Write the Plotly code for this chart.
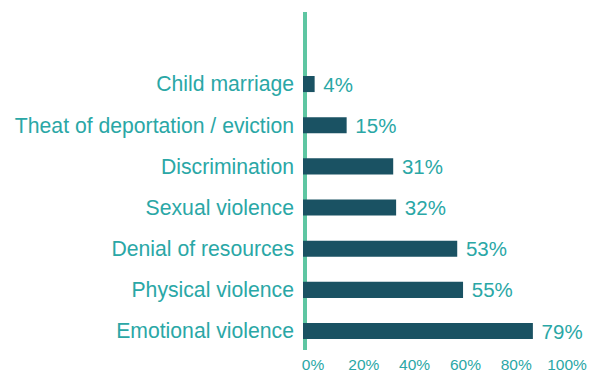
import plotly.graph_objects as go

# Share of respondents reporting each form of abuse
categories = [
    "Child marriage",
    "Theat of deportation / eviction",
    "Discrimination",
    "Sexual violence",
    "Denial of resources",
    "Physical violence",
    "Emotional violence",
]
values = [4, 15, 31, 32, 53, 55, 79]
tick_values = [0, 20, 40, 60, 80, 100]
tick_labels = ["0%", "20%", "40%", "60%", "80%", "100%"]

BAR = "#1a5263"
TEXT = "#2aa7a6"
LINE = "#5ec6a2"
FONT = "Liberation Sans, Arial, sans-serif"

W, H = 596, 370
ML, MR, MT, MB = 303, 0, 12, 20
plot_w = W - ML - MR
px_per_unit = 2.91           # bar scale
tick_px_per_unit = 2.54      # tick label scale
tick_offset = 10             # px from plot left to the 0% tick

fig = go.Figure()
fig.add_trace(go.Bar(
    x=values,
    y=list(range(len(categories))),
    orientation="h",
    marker=dict(color=BAR, line=dict(width=0)),
    width=0.39,
    text=[f" {v}%" for v in values],
    textposition="outside",
    constraintext="none",
    cliponaxis=False,
    textfont=dict(family=FONT, size=20.5, color=TEXT),
    hoverinfo="skip",
))
# empty trace so the percentage scale axis is rendered
fig.add_trace(go.Scatter(
    x=tick_values, y=[0] * len(tick_values), xaxis="x2", yaxis="y",
    mode="markers", marker=dict(opacity=0), hoverinfo="skip",
))

fig.update_layout(
    width=W, height=H,
    margin=dict(l=ML, r=MR, t=MT, b=MB, autoexpand=False),
    paper_bgcolor="white", plot_bgcolor="white",
    showlegend=False,
    font=dict(family=FONT, color=TEXT),
    xaxis=dict(
        range=[0, plot_w / px_per_unit],
        showgrid=False, zeroline=False, showline=False,
        showticklabels=False, ticks="", automargin=False,
    ),
    xaxis2=dict(
        overlaying="x", anchor="y", side="bottom",
        range=[-tick_offset / tick_px_per_unit,
               (plot_w - tick_offset) / tick_px_per_unit],
        tickvals=tick_values, ticktext=tick_labels,
        tickfont=dict(family=FONT, size=15.5, color=TEXT),
        showgrid=False, zeroline=False, showline=False, ticks="",
        ticklabelstandoff=3, automargin=False,
    ),
    yaxis=dict(
        range=[6.46, -1.75],
        tickvals=list(range(len(categories))),
        ticktext=categories,
        tickfont=dict(family=FONT, size=21.2, color=TEXT),
        showgrid=False, zeroline=False, showline=False, ticks="",
        ticklabelstandoff=8, automargin=False,
    ),
    shapes=[dict(
        type="line", xref="paper", yref="paper",
        x0=2 / plot_w, x1=2 / plot_w, y0=0, y1=1,
        line=dict(color=LINE, width=4), layer="below",
    )],
)

fig.write_html("out.html")
